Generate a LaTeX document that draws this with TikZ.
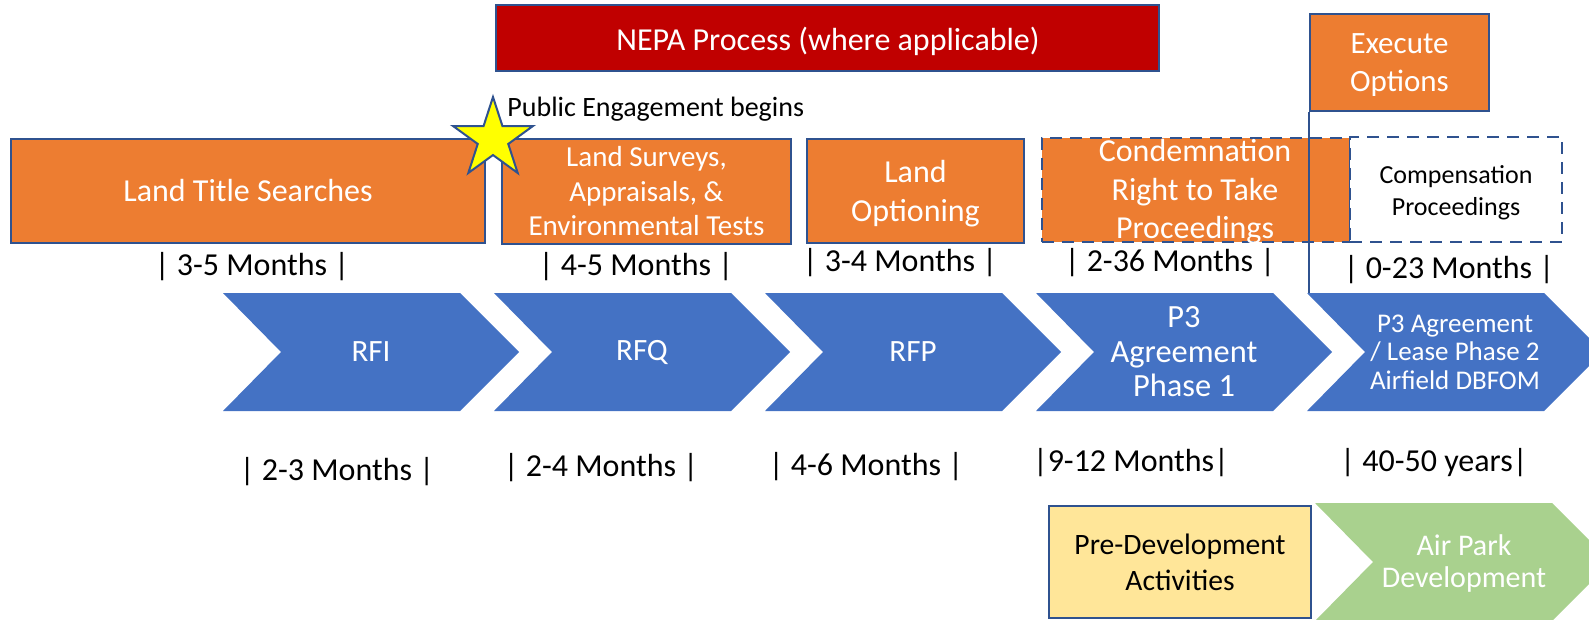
\documentclass[tikz,border=0pt]{standalone}
\usepackage{fontspec}
\setmainfont{Carlito}
\usepackage{xcolor}
\definecolor{edge}{HTML}{2F528F}
\definecolor{landorange}{HTML}{ED7D31}
\definecolor{nepared}{HTML}{C00000}
\definecolor{stepblue}{HTML}{4472C4}
\definecolor{devyellow}{HTML}{FFE699}
\definecolor{devgreen}{HTML}{A9D18E}
\definecolor{staryellow}{HTML}{FFFF00}
\usepackage{tikz}
\usetikzlibrary{shapes.geometric, positioning}
\newcommand{\fsz}[2]{\fontsize{#1}{#2}\selectfont}

\begin{document}
\begin{tikzpicture}[x=0.5pt, y=-0.5pt,
  every node/.style={font=\fsz{14.5}{17}},
  bar/.style={rectangle, draw=edge, line width=1.2pt, fill=#1, text=white,
              align=center, inner sep=0pt},
  dbar/.style={bar=#1, dash pattern=on 6pt off 4pt},
  lbl/.style={text=white, align=center, inner sep=0pt},
  dur/.style={inner sep=0pt, font=\fsz{16}{18}}
]
  \path[use as bounding box, clip] (0,0) rectangle (1589,620);

  % top bars
  \node[bar=nepared, minimum width=331.5pt, minimum height=33pt] (nepa) at (827.5,38) {};
  \node[lbl, font=\fsz{16}{18}] (nepatext) at (828,41) {NEPA Process (where applicable)};
  \node[bar=landorange, minimum width=89.5pt, minimum height=48.5pt] (exec) at (1399.5,62.5) {};
  \node[lbl, font=\fsz{15.5}{18.75}] (exectext) at (1399.5,65) {Execute\\Options};

  % land acquisition steps
  \node[bar=landorange, minimum width=237pt, minimum height=52pt, font=\fsz{16}{19}] (title) at (248,191) {Land Title Searches};
  \node[bar=landorange, minimum width=144.5pt, minimum height=52.5pt, font=\fsz{14.5}{17.25}] (survey) at (646.5,191.5) {Land Surveys,\\Appraisals, \&\\Environmental Tests};
  \node[bar=landorange, minimum width=108.5pt, minimum height=52pt] (option) at (915.5,191) {};
  \node[lbl, font=\fsz{16}{19.5}] (optiontext) at (915.5,194) {Land\\Optioning};
  \node[dbar=landorange, minimum width=154pt, minimum height=52pt] (condemn) at (1196,190) {};
  \node[lbl, font=\fsz{16}{19.25}] (condemntext) at (1195,192) {Condemnation\\Right to Take\\Proceedings};
  \node[dbar=white, minimum width=106pt, minimum height=52.5pt] (comp) at (1456,189.5) {};
  \node[lbl, text=black, font=\fsz{13}{16}] (comptext) at (1456,193) {Compensation\\Proceedings};

  % durations above the chevrons
  \node[dur] (d1) at (252,267) {| 3-5 Months |};
  \node[dur] (d2) at (636,267) {| 4-5 Months |};
  \node[dur] (d3) at (900,263) {| 3-4 Months |};
  \node[dur] (d4) at (1170,263) {| 2-36 Months |};
  \node[dur] (d5) at (1449,270) {| 0-23 Months |};

  % procurement chevrons
  \foreach \x in {223,494,765,1036,1307}
    \fill[stepblue] (\x,293) -- (\x+237,293) -- (\x+296,352) -- (\x+237,411)
      -- (\x,411) -- (\x+58,352) -- cycle;
  \coordinate (ptwotop) at (1307,293);

  \node[lbl, font=\fsz{15.5}{17}] (rfi) at (371,352) {RFI};
  \node[lbl, font=\fsz{15.5}{17}] (rfq) at (642,352) {RFQ};
  \node[lbl, font=\fsz{15.5}{17}] (rfp) at (913,352) {RFP};
  \node[lbl, font=\fsz{16.2}{17.25}] (pone) at (1184,352) {P3\\Agreement\\Phase 1};
  \node[lbl, font=\fsz{13.5}{14.25}] (ptwo) at (1455,352) {P3 Agreement\\/ Lease Phase 2\\Airfield DBFOM};

  % durations below the chevrons
  \node[dur] (e1) at (337,472) {| 2-3 Months |};
  \node[dur] (e2) at (601,468) {| 2-4 Months |};
  \node[dur] (e3) at (866,467) {| 4-6 Months |};
  \node[dur] (e4) at (1131,463) {|9-12 Months|};
  \node[dur] (e5) at (1434,463) {| 40-50 years|};

  % development
  \node[bar=devyellow, text=black, line width=1pt, minimum width=131pt, minimum height=56pt, font=\fsz{14.8}{18}] (predev) at (1180,562) {Pre-Development\\Activities};
  \fill[devgreen] (1315,503) -- (1552,503) -- (1611,562) -- (1552,621)
    -- (1315,621) -- (1373,562) -- cycle;
  \node[lbl, font=\fsz{15}{16}] (airpark) at (1464,563) {Air Park\\Development};

  % option line and kickoff star
  \draw[edge, line width=0.8pt] (exec.south west) -- (exec.south west |- ptwotop);
  \node[star, star points=5, star point ratio=2.618, minimum size=42pt, inner sep=0pt,
        draw=edge, line width=1pt, fill=staryellow] (kick) at (493,139) {};
  \node[anchor=west, inner sep=0pt, font=\fsz{14}{17}] (engage) at (507,109) {Public Engagement begins};
\end{tikzpicture}
\end{document}
